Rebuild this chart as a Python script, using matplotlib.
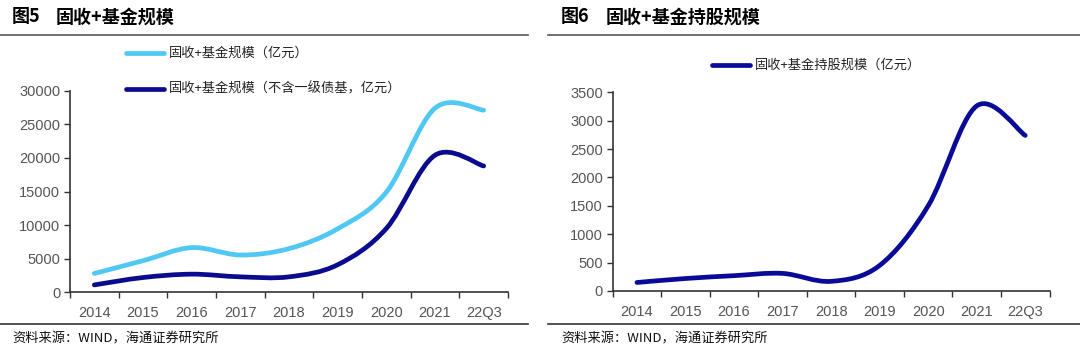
import numpy as np
import matplotlib
matplotlib.use("Agg")
import matplotlib.pyplot as plt
from matplotlib.path import Path
from matplotlib.patches import PathPatch

plt.rcParams['font.family'] = ['Liberation Sans', 'Noto Sans CJK SC', 'DejaVu Sans']

# categories
cats = ['2014', '2015', '2016', '2017', '2018', '2019', '2020', '2021', '22Q3']

# 图5: 固收+基金规模 (亿元)
scale_all = [2800, 4700, 6650, 5550, 6500, 9450, 14900, 27400, 27100]
scale_ex = [1100, 2200, 2700, 2300, 2300, 4100, 9500, 20400, 18800]

# 图6: 固收+基金持股规模 (亿元)
stock_hold = [150, 220, 270, 310, 170, 450, 1500, 3260, 2740]

LIGHT = '#4FC8F3'
DARK = '#0B0B8E'
DARK2 = '#0A0A99'
CJK = ['Noto Sans CJK SC', 'DejaVu Sans']
TICK_C = '#555555'


def smooth_line(ax, ys, color, lw=3.4):
    # Excel-style smoothed line: cubic bezier through each data point
    xs = np.arange(len(ys), dtype=float)
    ys = np.asarray(ys, dtype=float)
    n = len(xs)
    verts = [(xs[0], ys[0])]
    codes = [Path.MOVETO]
    for i in range(n - 1):
        i0 = max(i - 1, 0)
        i3 = min(i + 2, n - 1)
        c1 = (xs[i] + (xs[i + 1] - xs[i0]) / 6, ys[i] + (ys[i + 1] - ys[i0]) / 6)
        c2 = (xs[i + 1] - (xs[i3] - xs[i]) / 6, ys[i + 1] - (ys[i3] - ys[i]) / 6)
        verts += [c1, c2, (xs[i + 1], ys[i + 1])]
        codes += [Path.CURVE4] * 3
    patch = PathPatch(Path(verts, codes), fill=False, edgecolor=color, lw=lw,
                      capstyle='round', joinstyle='round')
    ax.add_patch(patch)


def style_axes(ax, ymax, ystep):
    ax.set_xlim(-0.5, len(cats) - 0.5)
    ax.set_ylim(0, ymax)
    ax.set_yticks(np.arange(0, ymax + 1, ystep))
    ax.set_xticks(np.arange(-0.5, len(cats), 1.0))
    ax.set_xticklabels([])
    ax.set_xticks(np.arange(len(cats)), minor=True)
    ax.set_xticklabels(cats, minor=True)
    ax.tick_params(axis='x', which='minor', length=0, pad=10, labelsize=10.5, labelcolor=TICK_C)
    ax.tick_params(axis='x', which='major', length=4, width=1, color='#333333', direction='out')
    ax.tick_params(axis='y', length=4, width=1, color='#333333', direction='out',
                   labelsize=10.5, labelcolor=TICK_C, pad=3)
    for s in ['top', 'right']:
        ax.spines[s].set_visible(False)
    for s in ['left', 'bottom']:
        ax.spines[s].set_color('#333333')
        ax.spines[s].set_linewidth(1.2)


fig = plt.figure(figsize=(10.8, 3.49), dpi=100)
W, H = 1080.0, 349.0

# ---------- left panel ----------
ax1 = fig.add_axes([70 / W, 56.7 / H, (508 - 70) / W, (258.3 - 56.7) / H])
smooth_line(ax1, scale_all, LIGHT)
smooth_line(ax1, scale_ex, DARK)
style_axes(ax1, 30000, 5000)

# ---------- right panel ----------
ax2 = fig.add_axes([612.7 / W, 58 / H, (1049.5 - 612.7) / W, (256.7 - 58) / H])
smooth_line(ax2, stock_hold, DARK2)
style_axes(ax2, 3500, 500)

# titles
fig.text(12 / W, 1 - 17 / H, '图5', fontsize=13, fontweight='bold', family=CJK, va='center')
fig.text(56 / W, 1 - 17 / H, '固收+基金规模', fontsize=13, fontweight='bold', family=CJK, va='center')
fig.text(561 / W, 1 - 17 / H, '图6', fontsize=13, fontweight='bold', family=CJK, va='center')
fig.text(606 / W, 1 - 17 / H, '固收+基金持股规模', fontsize=13, fontweight='bold', family=CJK, va='center')

# rules
for x0, x1 in [(0, 528), (548, 1080)]:
    fig.add_artist(plt.Line2D([x0 / W, x1 / W], [1 - 34.5 / H, 1 - 34.5 / H], color='#555555', lw=1.2))
    fig.add_artist(plt.Line2D([x0 / W, x1 / W], [1 - 323.5 / H, 1 - 323.5 / H], color='#333333', lw=1.2))

# legends
fig.add_artist(plt.Line2D([126 / W, 164 / W], [1 - 53 / H, 1 - 53 / H], color=LIGHT, lw=3.4,
                          solid_capstyle='round'))
fig.text(169 / W, 1 - 53 / H, '固收+基金规模（亿元）', fontsize=9.5, family=CJK, va='center', color='#222222')
fig.add_artist(plt.Line2D([126 / W, 164 / W], [1 - 89 / H, 1 - 89 / H], color=DARK, lw=3.4,
                          solid_capstyle='round'))
fig.text(169 / W, 1 - 89 / H, '固收+基金规模（不含一级债基，亿元）', fontsize=9.5, family=CJK, va='center',
         color='#222222')
fig.add_artist(plt.Line2D([712 / W, 750 / W], [1 - 65 / H, 1 - 65 / H], color=DARK2, lw=3.4,
                          solid_capstyle='round'))
fig.text(755 / W, 1 - 65 / H, '固收+基金持股规模（亿元）', fontsize=9.5, family=CJK, va='center', color='#222222')

# sources
fig.text(12 / W, 1 - 339 / H, '资料来源：WIND，海通证券研究所', fontsize=9.5, family=CJK, va='center', color='#111111')
fig.text(561 / W, 1 - 339 / H, '资料来源：WIND，海通证券研究所', fontsize=9.5, family=CJK, va='center', color='#111111')

fig.savefig('out.png', dpi=100)
